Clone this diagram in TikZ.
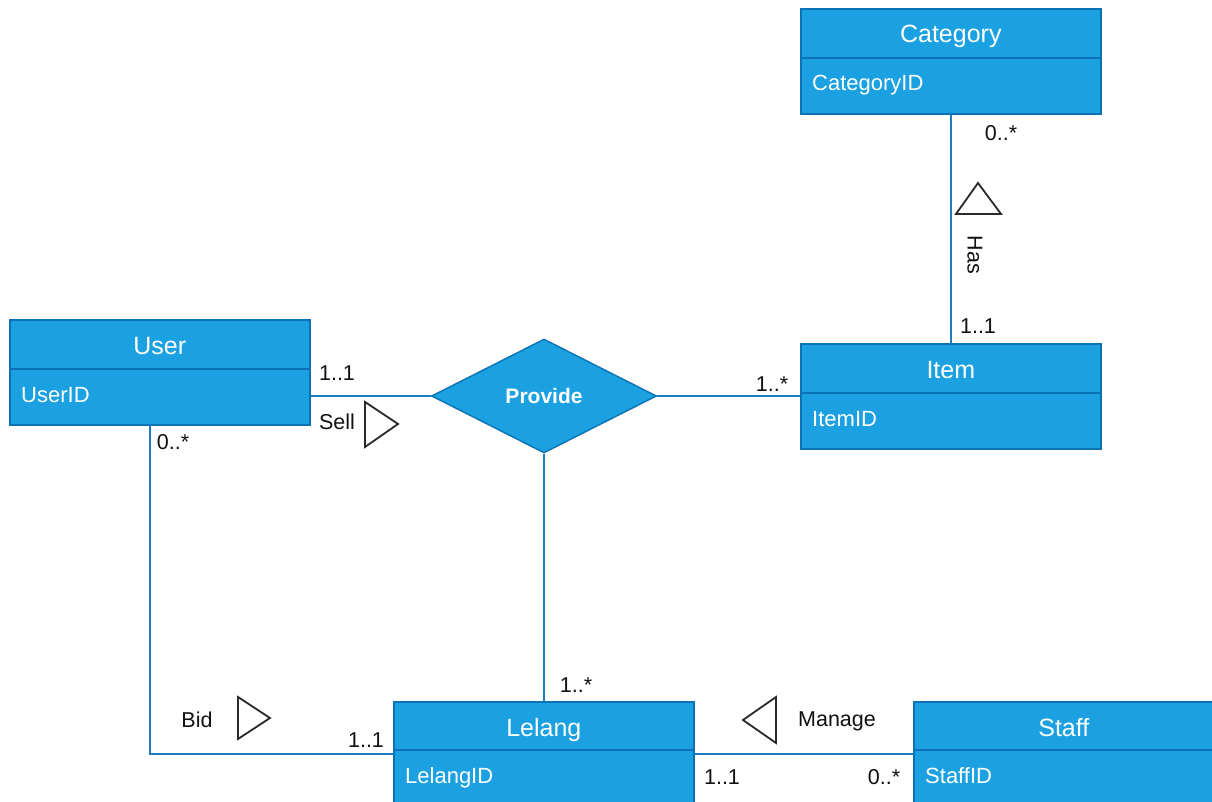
\documentclass[tikz,border=0pt]{standalone}
\usepackage{fontspec}
\setmainfont{Liberation Sans}
\usetikzlibrary{shapes.geometric}
\definecolor{efill}{HTML}{1BA1E2}
\definecolor{estroke}{HTML}{0A72B5}
\definecolor{conn}{HTML}{1C7DC3}
\definecolor{lbl}{HTML}{111111}
\tikzset{
  ent/.style={draw=estroke, fill=efill, line width=1.6pt, minimum width=300, minimum height=105, inner sep=0, anchor=north west},
  ttl/.style={text=white, font=\fontsize{25}{28}\selectfont, anchor=base, inner sep=0},
  attr/.style={text=white, font=\fontsize{22}{24}\selectfont, anchor=base west, inner sep=0},
  sep/.style={draw=estroke, line width=1.4pt},
  conline/.style={draw=conn, line width=1.6pt},
  lab/.style={text=lbl, font=\fontsize{21.5}{24}\selectfont, inner sep=0},
  tri/.style={draw=lbl!90, fill=white, line width=1.8pt, line join=miter},
  rel/.style={diamond, aspect=2, draw=estroke, fill=efill, line width=1.4pt, minimum width=225, minimum height=114, inner sep=0, text=white, font=\bfseries\fontsize{21}{24}\selectfont}
}
\begin{document}
\begin{tikzpicture}[x=1pt,y=-1pt]
\clip (0,0) rectangle (1212,802);
\fill[white] (0,0) rectangle (1212,802);

\node[rel] (prov) at (544,396) {Provide};
\node[ent] (cat) at (800,8) {};
\node[ent] (user) at (9,319) {};
\node[ent] (item) at (800,343) {};
\node[ent] (lelang) at (393,701) {};
\node[ent] (staff) at (913,701) {};
\coordinate (bend) at (150,754);

% connectors
\draw[conline] (user.east |- prov.west) -- (prov.west);
\draw[conline] (prov.east) -- (item.west |- prov.east);
\draw[conline] (prov.south) -- (lelang.north -| prov.south);
\draw[conline] (cat.south) -- (item.north);
\draw[conline] (bend |- user.south) -- (bend) -- (bend -| lelang.west);
\draw[conline] (lelang.east |- bend) -- (staff.west |- bend);

% entity separators and texts
\draw[sep] ([yshift=-50]cat.north west) -- ([yshift=-50]cat.north east);
\node[ttl] (catt) at ([yshift=-35]cat.north) {Category};
\node[attr] (cata) at ([xshift=12,yshift=-83]cat.north west) {CategoryID};

\draw[sep] ([yshift=-50]user.north west) -- ([yshift=-50]user.north east);
\node[ttl] (usert) at ([yshift=-35]user.north) {User};
\node[attr] (usera) at ([xshift=12,yshift=-83]user.north west) {UserID};

\draw[sep] ([yshift=-50]item.north west) -- ([yshift=-50]item.north east);
\node[ttl] (itemt) at ([yshift=-35]item.north) {Item};
\node[attr] (itema) at ([xshift=12,yshift=-83]item.north west) {ItemID};

\draw[sep] ([yshift=-49]lelang.north west) -- ([yshift=-49]lelang.north east);
\node[ttl] (lelangt) at ([yshift=-35]lelang.north) {Lelang};
\node[attr] (lelanga) at ([xshift=12,yshift=-82]lelang.north west) {LelangID};

\draw[sep] ([yshift=-49]staff.north west) -- ([yshift=-49]staff.north east);
\node[ttl] (stafft) at ([yshift=-35]staff.north) {Staff};
\node[attr] (staffa) at ([xshift=12,yshift=-82]staff.north west) {StaffID};

% multiplicities and role labels
\node[lab] (l1) at (337,373) {1..1};
\node[lab] (l2) at (337,422) {Sell};
\draw[tri] (365,402) -- (398,424) -- (365,447) -- cycle;
\node[lab] (l3) at (173,442) {0..*};
\node[lab] (l4) at (772,384) {1..*};
\node[lab] (l5) at (1001,133) {0..*};
\draw[tri] (956,214) -- (978,183) -- (1001,214) -- cycle;
\node[lab, rotate=-90] (l6) at (975,255) {Has};
\node[lab] (l7) at (978,326) {1..1};
\node[lab] (l8) at (576,685) {1..*};
\node[lab] (l9) at (197,720) {Bid};
\draw[tri] (238,697) -- (270,718) -- (238,739) -- cycle;
\node[lab] (l10) at (366,740) {1..1};
\node[lab] (l11) at (837,721) {Manage};
\draw[tri] (776,697) -- (743,720) -- (776,743) -- cycle;
\node[lab] (l12) at (722,777) {1..1};
\node[lab] (l13) at (884,777) {0..*};
\end{tikzpicture}
\end{document}
